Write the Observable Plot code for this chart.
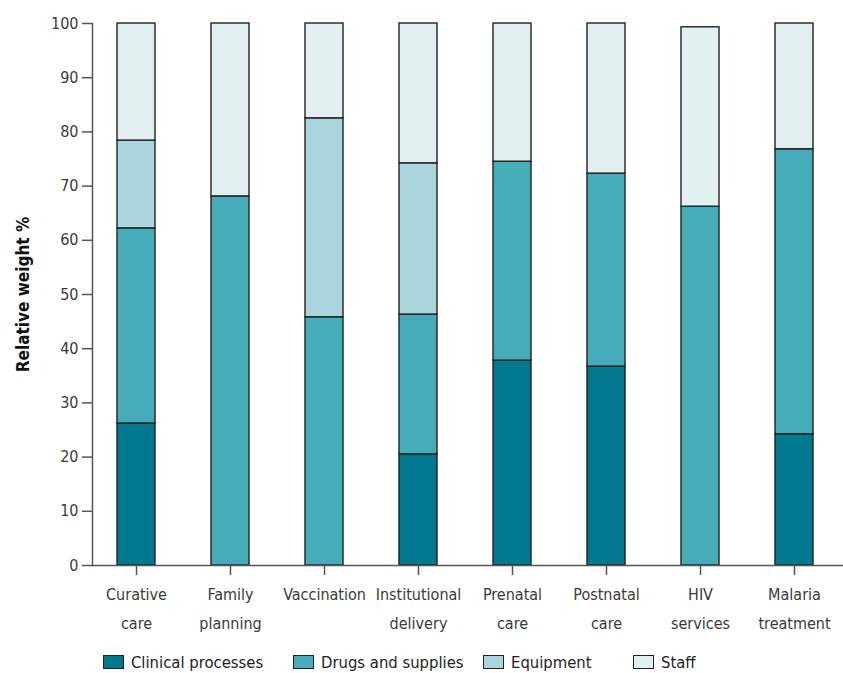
<!DOCTYPE html>
<html>
<head>
<meta charset="utf-8">
<script src="https://cdn.jsdelivr.net/npm/d3@7"></script>
<script src="https://cdn.jsdelivr.net/npm/@observablehq/plot@0.6"></script>
<style>
  body { margin: 0; background: #fff; font-family: "DejaVu Sans Condensed", "Liberation Sans Narrow", sans-serif; }
  #chart svg { font-family: "DejaVu Sans Condensed", "Liberation Sans Narrow", sans-serif; }
  #chart [aria-label="y-axis label"] text { font-weight: bold; fill: #111; font-size: 17px; }
  #legend { margin-top: 6px; height: 24px; line-height: 24px; padding-left: 103px; font-size: 16.5px; color: #222; white-space: nowrap; }
  #legend span.item { display: inline-block; }
  #legend span.sw { display: inline-block; width: 19px; height: 12px; border: 1.5px solid #222; vertical-align: -1px; margin-right: 7px; }
</style>
</head>
<body>
<div id="chart"></div>
<div id="legend"></div>
<script>
const categories = ["Curative care", "Family planning", "Vaccination", "Institutional delivery", "Prenatal care", "Postnatal care", "HIV services", "Malaria treatment"];
const tickLabels = ["Curative\ncare", "Family\nplanning", "Vaccination", "Institutional\ndelivery", "Prenatal\ncare", "Postnatal\ncare", "HIV\nservices", "Malaria\ntreatment"];
const seriesNames = ["Clinical processes", "Drugs and supplies", "Equipment", "Staff"];
const seriesColors = ["#00788e", "#47acb9", "#aad5dc", "#e1eff1"];
const clinical  = [26.2, 0,    0,    20.5, 37.8, 36.7, 0,    24.2];
const drugs     = [36.0, 68.1, 45.8, 25.8, 36.7, 35.6, 66.2, 52.6];
const equipment = [16.2, 0,    36.7, 27.9, 0,    0,    0,    0];
const staff     = [21.6, 31.9, 17.5, 25.8, 25.5, 27.7, 33.1, 23.2];
const yTicks = [0, 10, 20, 30, 40, 50, 60, 70, 80, 90, 100];
const legendItemWidths = [190, 190, 150, null];

const seriesValues = [clinical, drugs, equipment, staff];
const rows = [];
seriesNames.forEach((s, si) => {
  categories.forEach((c, ci) => {
    const v = seriesValues[si][ci];
    if (v > 0) rows.push({category: c, series: s, value: v});
  });
});
const labelOf = new Map(categories.map((c, i) => [c, tickLabels[i]]));

const chart = Plot.plot({
  width: 843,
  height: 645,
  marginLeft: 92,
  marginRight: 5,
  marginTop: 23,
  marginBottom: 80,
  style: {fontSize: "16px", color: "#3a3a3a", background: "#fff"},
  x: {domain: categories, paddingInner: 0.594, paddingOuter: 0.26},
  y: {domain: [0, 100]},
  color: {domain: seriesNames, range: seriesColors},
  marks: [
    Plot.barY(rows, Plot.stackY({x: "category", y: "value", fill: "series", stroke: "#222", strokeWidth: 1.4})),
    Plot.frame({anchor: "left", stroke: "#555", strokeWidth: 1.5}),
    Plot.ruleY([0], {stroke: "#555", strokeWidth: 1.5, insetRight: -5}),
    Plot.axisY({ticks: yTicks, tickSize: 10, tickPadding: 4, stroke: "#555", strokeWidth: 1.5, fill: "#3a3a3a", fontSize: 16,
      label: "Relative weight %", labelAnchor: "center", labelArrow: false, labelOffset: 76}),
    Plot.axisX({tickSize: 10, tickPadding: 3, stroke: "#555", strokeWidth: 1.5, fill: "#3a3a3a", fontSize: 16, lineHeight: 1.85,
      tickFormat: d => labelOf.get(d), label: null})
  ]
});
document.getElementById("chart").appendChild(chart);

const legend = document.getElementById("legend");
seriesNames.forEach((s, i) => {
  const item = document.createElement("span");
  item.className = "item";
  if (legendItemWidths[i]) item.style.width = legendItemWidths[i] + "px";
  const sw = document.createElement("span");
  sw.className = "sw";
  sw.style.background = seriesColors[i];
  item.appendChild(sw);
  item.appendChild(document.createTextNode(s));
  legend.appendChild(item);
});
</script>
</body>
</html>
